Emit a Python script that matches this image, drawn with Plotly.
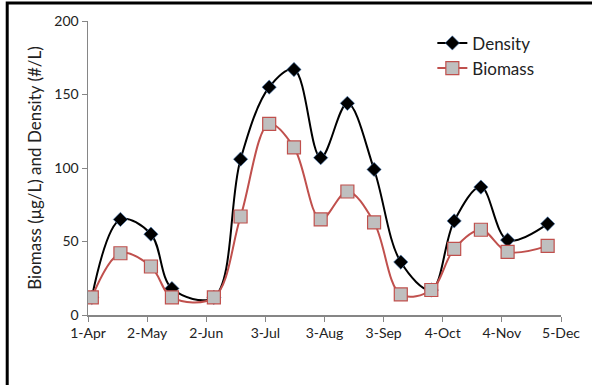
import plotly.graph_objects as go

dates = ["2013-04-03", "2013-04-18", "2013-05-04", "2013-05-15", "2013-06-06",
         "2013-06-20", "2013-07-05", "2013-07-18", "2013-08-01", "2013-08-15",
         "2013-08-29", "2013-09-12", "2013-09-28", "2013-10-10", "2013-10-24",
         "2013-11-07", "2013-11-28"]
density = [12, 65, 55, 18, 12, 106, 155, 167, 107, 144, 99, 36, 17, 64, 87, 51, 62]
biomass = [12, 42, 33, 12, 12, 67, 130, 114, 65, 84, 63, 14, 17, 45, 58, 43, 47]

tick_vals = ["2013-04-01", "2013-05-02", "2013-06-02", "2013-07-03", "2013-08-03",
             "2013-09-03", "2013-10-04", "2013-11-04", "2013-12-05"]
tick_text = ["1-Apr", "2-May", "2-Jun", "3-Jul", "3-Aug", "3-Sep", "4-Oct", "4-Nov", "5-Dec"]

FONT = "Lato"

fig = go.Figure()
fig.add_trace(go.Scatter(
    x=dates, y=density, name="Density", mode="lines+markers",
    line=dict(color="black", width=2, shape="spline", smoothing=1),
    marker=dict(symbol="diamond", size=11, color="black",
                line=dict(color="#4F81BD", width=0.6)),
))
fig.add_trace(go.Scatter(
    x=dates, y=biomass, name="Biomass", mode="lines+markers",
    line=dict(color="#C0504D", width=2, shape="spline", smoothing=1),
    marker=dict(symbol="square", size=13, color="#BFBFBF",
                line=dict(color="#C0504D", width=1.2)),
))

fig.update_layout(
    width=592, height=385,
    margin=dict(l=88, r=24, t=20, b=70),
    paper_bgcolor="white", plot_bgcolor="white",
    font=dict(family=FONT, size=14, color="#222"),
    hovermode=False,
    showlegend=True,
    legend=dict(x=0.728, y=0.985, xanchor="left", yanchor="top",
                font=dict(family=FONT, size=17, color="#222"),
                bgcolor="rgba(0,0,0,0)", borderwidth=0, tracegroupgap=4),
    xaxis=dict(
        type="date", range=["2013-04-01", "2013-12-05"],
        tickmode="array", tickvals=tick_vals, ticktext=tick_text,
        showgrid=False, zeroline=False,
        showline=True, linecolor="#868686", linewidth=1.5,
        ticks="outside", ticklen=5, tickcolor="#868686",
        tickfont=dict(family=FONT, size=14, color="#222"),
    ),
    yaxis=dict(
        range=[0, 200], dtick=50, tick0=0,
        showgrid=False, zeroline=False,
        showline=True, linecolor="#868686", linewidth=1.5,
        ticks="outside", ticklen=5, tickcolor="#868686",
        tickfont=dict(family=FONT, size=14, color="#222"),
        title=dict(text="Biomass (μg/L) and Density (#/L)",
                   font=dict(family=FONT, size=17, color="#222"), standoff=8),
    ),
)

# outer frame: only its left and top edges fall inside the canvas
fig.add_shape(type="rect", xref="paper", yref="paper",
              x0=-0.1708, x1=1.3, y0=-0.6, y1=1.061,
              line=dict(color="black", width=3), fillcolor="rgba(0,0,0,0)")

fig.write_html("out.html", config={"displayModeBar": False, "staticPlot": True},
               post_script="document.body.style.margin='0';document.body.style.overflow='hidden';"
                           "document.documentElement.style.overflow='hidden';")
